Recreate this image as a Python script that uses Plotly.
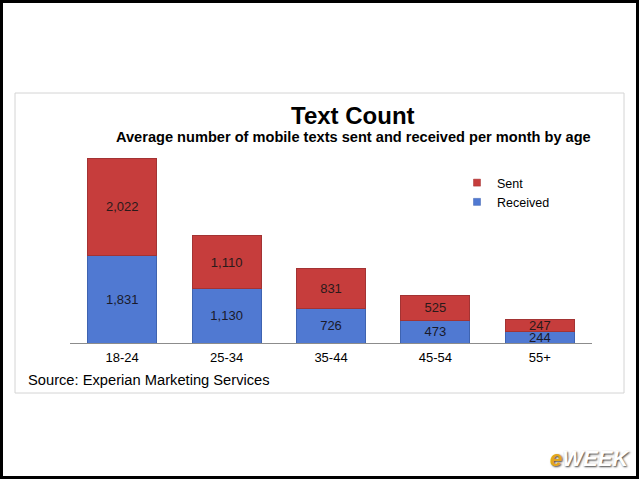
import plotly.graph_objects as go

categories = ["18-24", "25-34", "35-44", "45-54", "55+"]
received = [1831, 1130, 726, 473, 244]
sent = [2022, 1110, 831, 525, 247]

def fmt(v):
    return f"{v:,}"

RED = "#C63D3C"
BLUE = "#5079D2"

# plot area in pixels
L, R, T, B = 70, 592, 151, 343
W, H = R - L, B - T
def px(x):
    return (x - L) / W
def py(y):
    return (B - y) / H

fig = go.Figure()
fig.add_trace(go.Bar(
    x=categories, y=received, name="Received",
    marker=dict(color=BLUE, line=dict(color="#3E63B0", width=1)),
    text=[fmt(v) for v in received], textposition="inside", insidetextanchor="middle",
    textfont=dict(family="Liberation Sans, Arial", size=13, color="#1a1a2a"),
    showlegend=False, cliponaxis=False,
))
fig.add_trace(go.Bar(
    x=categories, y=sent, name="Sent",
    marker=dict(color=RED, line=dict(color="#A33333", width=1)),
    text=[fmt(v) for v in sent], textposition="inside", insidetextanchor="middle",
    textfont=dict(family="Liberation Sans, Arial", size=13, color="#2a1a1a"),
    showlegend=False, cliponaxis=False,
))
# legend entries
fig.add_trace(go.Scatter(x=[None], y=[None], mode="markers", name="Received",
                         marker=dict(symbol="square", size=7, color=BLUE,
                                     line=dict(color="#3E63B0", width=0.5))))
fig.add_trace(go.Scatter(x=[None], y=[None], mode="markers", name="Sent",
                         marker=dict(symbol="square", size=7, color=RED,
                                     line=dict(color="#A33333", width=0.5))))

shapes = [
    dict(type="rect", xref="paper", yref="paper",
         x0=px(15), x1=px(624), y0=py(393), y1=py(93),
         line=dict(color="#d4d4d4", width=1), layer="below"),
    dict(type="rect", xref="paper", yref="paper",
         x0=px(1.5), x1=px(637.5), y0=py(477.5), y1=py(1.5),
         line=dict(color="#000000", width=3)),
]

annotations = [
    dict(text="<b>Text Count</b>", xref="paper", yref="paper",
         x=px(353), y=py(115), xanchor="center", yanchor="middle", showarrow=False,
         font=dict(family="Liberation Sans, Arial", size=24, color="#000")),
    dict(text="<b>Average number of mobile texts sent and received per month by age</b>",
         xref="paper", yref="paper",
         x=px(353), y=py(137), xanchor="center", yanchor="middle", showarrow=False,
         font=dict(family="Liberation Sans, Arial", size=14.6, color="#000")),
    dict(text="Source: Experian Marketing Services", xref="paper", yref="paper",
         x=px(26), y=py(380), xanchor="left", yanchor="middle", showarrow=False,
         font=dict(family="Liberation Sans, Arial", size=14.7, color="#000")),
    dict(text="<b><i><span style='color:#E3A61E'>e</span>WEEK</i></b>", xref="paper", yref="paper",
         x=px(632), y=py(458), xanchor="right", yanchor="middle", showarrow=False,
         font=dict(family="Liberation Sans, Arial", size=22, color="#ffffff",
                   shadow="1px 1px 2px #444")),
]

fig.update_layout(
    width=640, height=480,
    margin=dict(l=L, r=640 - R, t=T, b=480 - B),
    paper_bgcolor="white", plot_bgcolor="white",
    barmode="stack", bargap=0.34,
    uniformtext=dict(minsize=13, mode="show"),
    xaxis=dict(showline=True, linecolor="#8c8c8c", linewidth=1, ticks="outside",
               ticklen=2, tickcolor="rgba(0,0,0,0)",
               tickfont=dict(family="Liberation Sans, Arial", size=13, color="#000"),
               showgrid=False, zeroline=False, fixedrange=True),
    yaxis=dict(range=[0, 4000], visible=False, showgrid=False, zeroline=False),
    legend=dict(x=px(457), y=py(168), xanchor="left", yanchor="top",
                traceorder="reversed", bgcolor="rgba(0,0,0,0)",
                font=dict(family="Liberation Sans, Arial", size=12.5, color="#000"),
                itemwidth=30, tracegroupgap=0),
    shapes=shapes, annotations=annotations,
    showlegend=True,
)

fig.write_html("out.html", config={"displayModeBar": False},
               post_script="document.body.style.margin='0';document.body.style.overflow='hidden';")
